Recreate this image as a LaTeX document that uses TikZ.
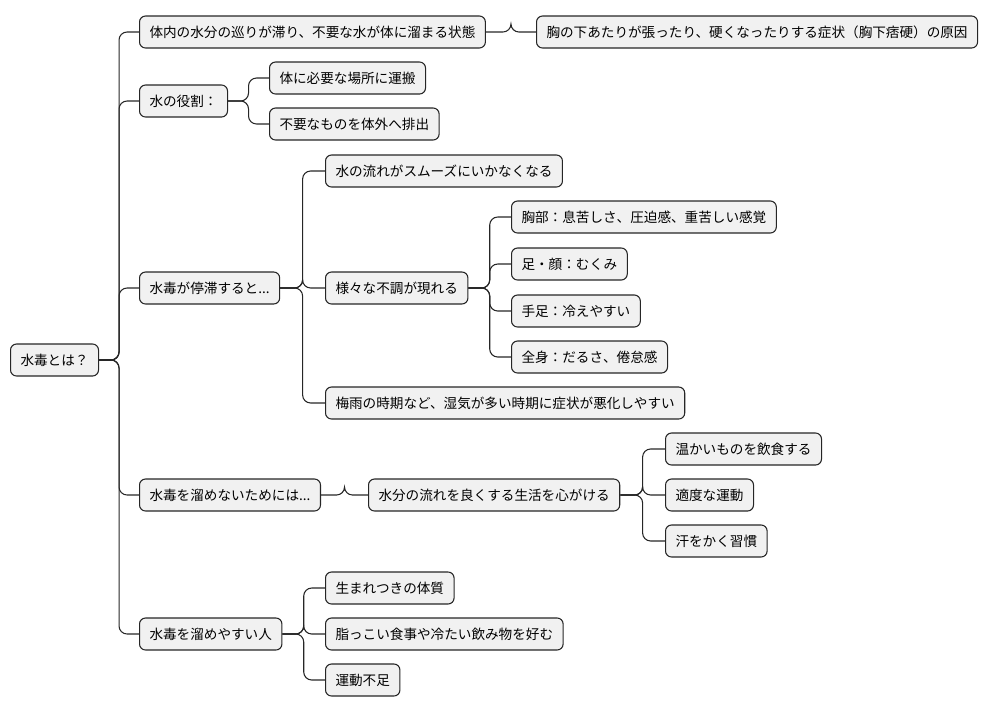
\documentclass[tikz,border=0pt]{standalone}
\usetikzlibrary{calc}
\usepackage{fontspec}
\setmainfont{Noto Sans CJK JP}
\begin{document}
\begin{tikzpicture}[x=0.75pt,y=-0.75pt,
  box/.style={draw=black!85,line width=0.8pt,fill={rgb,255:red,241;green,241;blue,241},rounded corners=4.5pt,anchor=west,inner xsep=7.5pt,inner ysep=0pt,minimum height=24pt,font=\fontsize{10.2pt}{12pt}\selectfont},
  con/.style={draw=black!85,line width=0.8pt,rounded corners=6pt}]
\useasboundingbox (0,0) rectangle (1000,715);
\node[box] (r) at (10,360) {水毒とは？};
\node[box] (a) at (139,32) {体内の水分の巡りが滞り、不要な水が体に溜まる状態};
\node[box] (a1) at (536,32) {胸の下あたりが張ったり、硬くなったりする症状（胸下痞硬）の原因};
\node[box] (b) at (139,101) {水の役割：};
\node[box] (b1) at (269,78) {体に必要な場所に運搬};
\node[box] (b2) at (269,124) {不要なものを体外へ排出};
\node[box] (c) at (139,288) {水毒が停滞すると...};
\node[box] (c1) at (325,171) {水の流れがスムーズにいかなくなる};
\node[box] (c2) at (325,288) {様々な不調が現れる};
\node[box] (c21) at (511,217) {胸部：息苦しさ、圧迫感、重苦しい感覚};
\node[box] (c22) at (511,264) {足・顔：むくみ};
\node[box] (c23) at (511,311) {手足：冷えやすい};
\node[box] (c24) at (511,357) {全身：だるさ、倦怠感};
\node[box] (c3) at (325,403) {梅雨の時期など、湿気が多い時期に症状が悪化しやすい};
\node[box] (d) at (139,495) {水毒を溜めないためには...};
\node[box] (d1) at (368,495) {水分の流れを良くする生活を心がける};
\node[box] (d11) at (665,449) {温かいものを飲食する};
\node[box] (d12) at (665,495) {適度な運動};
\node[box] (d13) at (665,541) {汗をかく習慣};
\node[box] (e) at (139,634) {水毒を溜めやすい人};
\node[box] (e1) at (325,588) {生まれつきの体質};
\node[box] (e2) at (325,634) {脂っこい食事や冷たい飲み物を好む};
\node[box] (e3) at (325,680) {運動不足};
\foreach \p/\c in {r/a,r/b,r/c,r/d,r/e,a/a1,b/b1,b/b2,c/c1,c/c2,c/c3,c2/c21,c2/c22,c2/c23,c2/c24,d/d1,d1/d11,d1/d12,d1/d13,e/e1,e/e2,e/e3}{
  \draw[con] (\p.east) -- ($(\p.east)!0.5!(\p.east -| \c.west)$) |- (\c.west);
}
\end{tikzpicture}
\end{document}
